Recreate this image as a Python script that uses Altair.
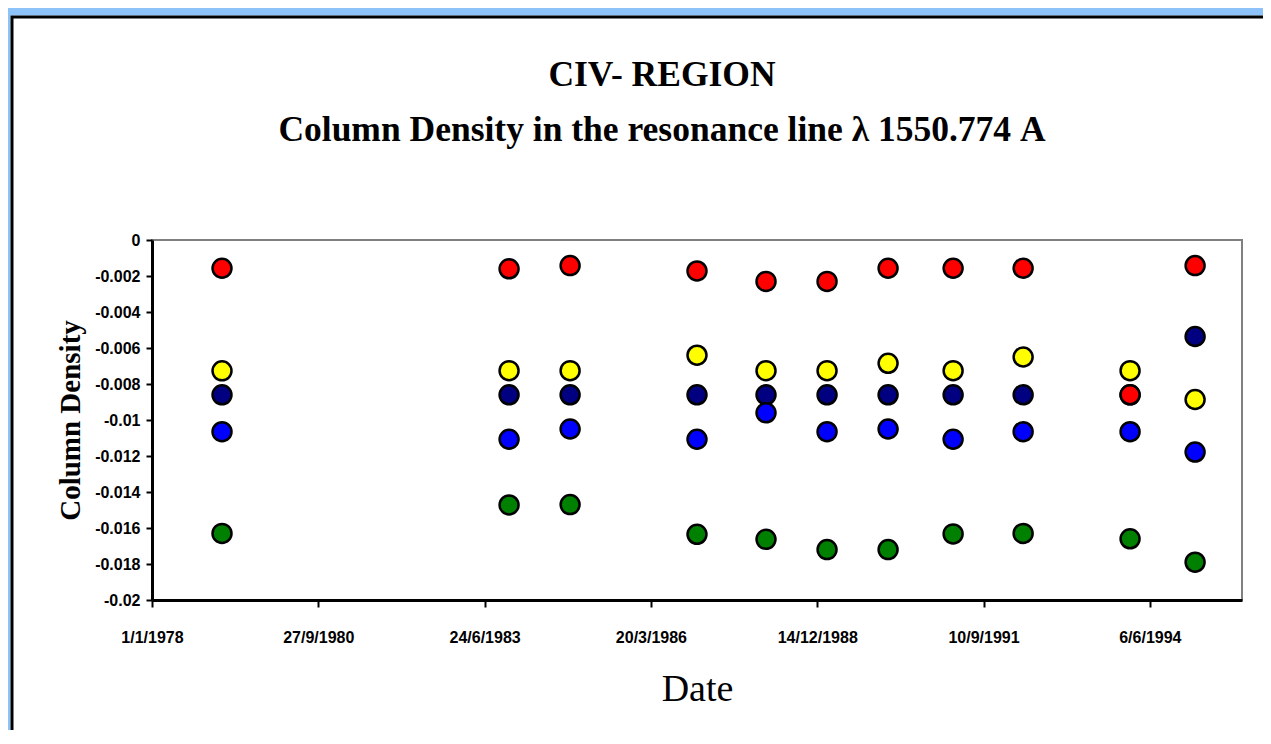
import altair as alt
import pandas as pd

# ---- data ----
dates = ["1979-02-26", "1983-11-18", "1984-11-19", "1986-12-22", "1988-02-10",
         "1989-02-11", "1990-02-13", "1991-03-11", "1992-05-05", "1994-02-07",
         "1995-03-05"]
yellow_vals = [-0.00727, -0.00726, -0.00726, -0.0064, -0.00726, -0.00726,
               -0.00685, -0.00726, -0.0065, -0.00726, -0.00886]
navy_vals = [-0.0086, -0.0086, -0.0086, -0.0086, -0.0086, -0.0086,
             -0.0086, -0.0086, -0.0086, -0.0086, -0.00536]
red_vals = [-0.00157, -0.0016, -0.00142, -0.00172, -0.0023, -0.0023,
            -0.00157, -0.00157, -0.00157, -0.0086, -0.00142]
blue_vals = [-0.01065, -0.01107, -0.0105, -0.01107, -0.0096, -0.01065,
             -0.0105, -0.01107, -0.01065, -0.01065, -0.01178]
green_vals = [-0.0163, -0.01472, -0.0147, -0.01635, -0.01663, -0.0172,
              -0.0172, -0.01633, -0.0163, -0.0166, -0.0179]

series_names = ["yellow", "navy", "red", "blue", "green"]
series_colors = ["#FFFF00", "#000080", "#FF0000", "#0000FF", "#008000"]
series_values = [yellow_vals, navy_vals, red_vals, blue_vals, green_vals]

x_tick_dates = [(1978, 1, 1), (1980, 9, 27), (1983, 6, 24), (1986, 3, 20),
                (1988, 12, 14), (1991, 9, 10), (1994, 6, 6)]
x_domain = [(1978, 1, 1), (1995, 12, 12)]
y_ticks = [0, -0.002, -0.004, -0.006, -0.008, -0.01, -0.012, -0.014,
           -0.016, -0.018, -0.02]

title_lines = ["CIV- REGION",
               "Column Density in the resonance line  \u03bb 1550.774 A"]

rows = []
for name, vals in zip(series_names, series_values):
    for d, v in zip(dates, vals):
        rows.append({"date": d, "value": v, "series": name})
df = pd.DataFrame(rows)


def dt(t):
    return alt.DateTime(year=t[0], month=t[1], date=t[2], utc=True)


x_enc = alt.X(
    "date:T",
    scale=alt.Scale(type="utc", domain=[dt(t) for t in x_domain], nice=False),
    axis=alt.Axis(
        title="Date",
        values=[dt(t) for t in x_tick_dates],
        labelExpr="utcFormat(datum.value, '%-d/%-m/%Y')",
        grid=False,
        domainColor="black",
        domainWidth=3,
        tickColor="black",
        tickWidth=2,
        tickSize=7,
        labelFont="Liberation Sans",
        labelFontWeight="bold",
        labelFontSize=16,
        labelColor="black",
        labelPadding=22,
        labelFlush=False,
        labelOverlap=False,
        titleFont="Liberation Serif",
        titleFontWeight="normal",
        titleFontSize=38,
        titleColor="black",
        titlePadding=25,
        zindex=1,
    ),
)

y_enc = alt.Y(
    "value:Q",
    scale=alt.Scale(domain=[-0.02, 0], nice=False, zero=False),
    axis=alt.Axis(
        title="Column Density",
        values=y_ticks,
        labelExpr="'' + datum.value",
        grid=False,
        domainColor="black",
        domainWidth=3,
        tickColor="black",
        tickWidth=2,
        tickSize=6,
        labelFont="Liberation Sans",
        labelFontWeight="bold",
        labelFontSize=16,
        labelColor="black",
        labelPadding=6,
        labelFlush=False,
        labelOverlap=False,
        titleFont="Liberation Serif",
        titleFontWeight="bold",
        titleFontSize=29,
        titleColor="black",
        titlePadding=9,
        zindex=1,
    ),
)

points = alt.Chart(df).mark_circle(
    size=360, stroke="black", strokeWidth=2.5, opacity=1
).encode(
    x=x_enc,
    y=y_enc,
    color=alt.Color("series:N",
                    scale=alt.Scale(domain=series_names, range=series_colors),
                    legend=None),
)

# decorative frame: blue page border and black panel edge
frame_blue = alt.Chart(pd.DataFrame({"k": [0]})).mark_rect(
    fill=None, stroke="#8DC3F8", strokeWidth=20
).encode(x=alt.value(-151.5), x2=alt.value(1400),
         y=alt.value(-234.5), y2=alt.value(800))

frame_black = alt.Chart(pd.DataFrame({"k": [0]})).mark_rect(
    fill=None, stroke="black", strokeWidth=3
).encode(x=alt.value(-140), x2=alt.value(1400),
         y=alt.value(-223), y2=alt.value(800))

chart = alt.layer(frame_blue, frame_black, points).properties(
    width=1090,
    height=360,
    autosize=alt.AutoSizeParams(type="none"),
    padding={"left": 144, "top": 232, "right": 21, "bottom": 130},
    background="white",
    title=alt.TitleParams(
        text=title_lines,
        font="Liberation Serif",
        fontWeight="bold",
        fontSize=35.5,
        lineHeight=55,
        color="black",
        anchor="middle",
        frame="group",
        dx=-35,
        dy=153,
        offset=0,
        zindex=1,
    ),
).configure_view(stroke="#808080", strokeWidth=2)

chart.save("out.html", embed_options={"renderer": "svg", "actions": False})
